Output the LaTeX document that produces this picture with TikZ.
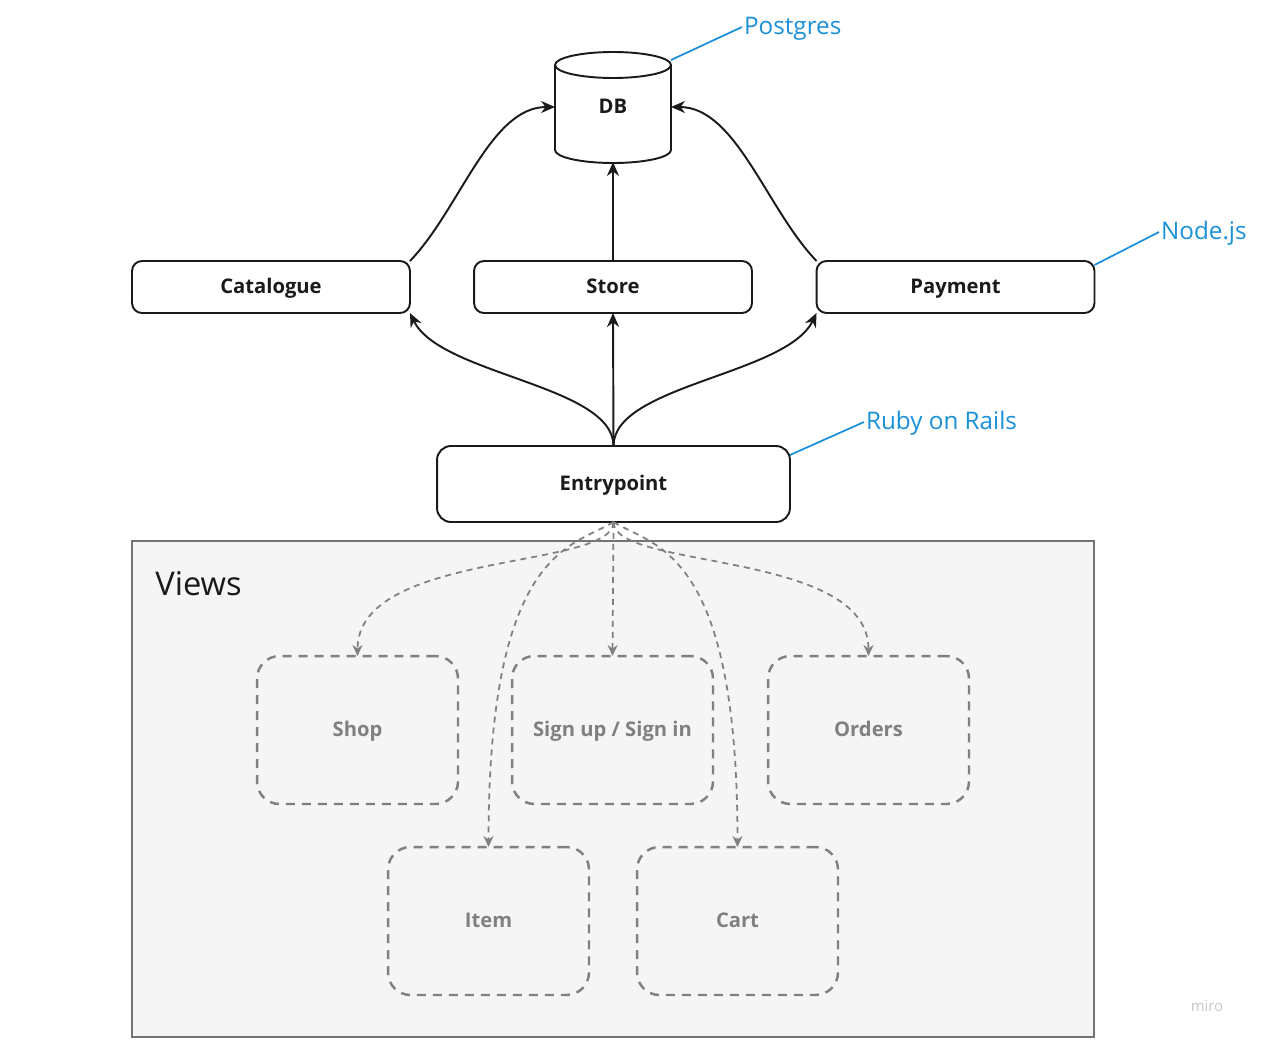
\documentclass[tikz,border=0pt]{standalone}
\usepackage{fontspec}
\setmainfont{Open Sans}
\usetikzlibrary{arrows.meta}

\definecolor{techblue}{HTML}{1A90D8}
\definecolor{viewgray}{HTML}{808080}
\definecolor{viewfill}{HTML}{F5F5F5}
\definecolor{inkblack}{HTML}{1A1A1A}

\tikzset{
  label font/.style={font=\bfseries\fontsize{11.5}{14}\selectfont, text height=0.74em, text depth=0.02em},
  service/.style={draw=inkblack, line width=1.1pt, rounded corners=0.2cm, outer sep=0pt,
    minimum width=5.56cm, minimum height=1.04cm, text=inkblack, label font},
  viewbox/.style={draw=viewgray, line width=1.4pt, dash pattern=on 0.18cm off 0.14cm,
    rounded corners=0.45cm, outer sep=0pt, minimum width=4.02cm, minimum height=2.96cm,
    text=viewgray, label font},
  call/.style={-{Stealth[length=0.28cm,width=0.24cm]}, line width=1.1pt, inkblack},
  route/.style={-{Stealth[length=0.22cm,width=0.2cm]}, line width=1pt, viewgray,
    dash pattern=on 0.12cm off 0.1cm},
  tech/.style={anchor=west, inner sep=1pt, text=techblue, font=\fontsize{13.8}{16}\selectfont,
    text height=0.88em, text depth=0.06em},
  techline/.style={techblue, line width=1pt},
}

\begin{document}
\begin{tikzpicture}[x=0.02cm, y=-0.02cm]
        \useasboundingbox (0,0) rectangle (1280,1051);

        % Views frame
        \node (views) [draw=viewgray!90!black, fill=viewfill, line width=1.4pt, outer sep=0pt,
          minimum width=19.24cm, minimum height=9.92cm] at (613,789) {};
        \node (viewslbl) [anchor=west, inner sep=0pt, text=inkblack,
          font=\fontsize{18.6}{20}\selectfont] at (155,584) {Views};

        % Database
        \draw[line width=1.1pt, inkblack, fill=white] (555,65) -- (555,150)
          arc[start angle=180, end angle=360, x radius=1.16cm, y radius=0.26cm] -- (671,65);
        \draw[line width=1.1pt, inkblack, fill=white] (613,65) ellipse (1.16cm and 0.26cm);
        \node (db) [minimum width=2.32cm, minimum height=2.2cm, inner sep=0pt, outer sep=0pt,
          text=inkblack, label font] at (613,107) {DB};
        \coordinate (dbrim) at (671,60);

        % Services
        \node (catalogue) [service] at (271,287) {Catalogue};
        \node (store) [service] at (613,287) {Store};
        \node (payment) [service] at (955.5,287) {Payment};
        \node (entry) [service, minimum width=7.06cm, minimum height=1.52cm,
          rounded corners=0.28cm] at (613.5,484) {Entrypoint};

        % Views
        \node (shop) [viewbox] at (357.5,730) {Shop};
        \node (signup) [viewbox] at (612.5,730) {Sign up / Sign in};
        \node (orders) [viewbox] at (868.5,730) {Orders};
        \node (item) [viewbox] at (488.5,921) {Item};
        \node (cart) [viewbox] at (737.5,921) {Cart};

        % Services -> DB
        \draw[call] (catalogue.north east) .. controls +(50,-52) and +(-65,0) .. (db.west);
        \draw[call] (payment.north west) .. controls +(-50,-52) and +(65,0) .. (db.east);
        \draw[call] (store.north) -- (db.south);

        % Entrypoint -> services
        \draw[call] (entry.north) .. controls +(0,-61) and +(30,62) .. (catalogue.south east);
        \draw[call] (entry.north) -- (store.south);
        \draw[call] (entry.north) .. controls +(0,-61) and +(-30,62) .. (payment.south west);

        % Entrypoint -> views
        \draw[route] (entry.south) .. controls +(0,48) and +(0,-106) .. (shop.north);
        \draw[route] (entry.south) .. controls +(-40,25) and +(0,-300) .. (item.north);
        \draw[route] (entry.south) -- (signup.north);
        \draw[route] (entry.south) .. controls +(40,25) and +(0,-300) .. (cart.north);
        \draw[route] (entry.south) .. controls +(0,48) and +(0,-106) .. (orders.north);

        % Technologies
        \node (postgres) [tech] at (742,27) {Postgres};
        \node (nodejs) [tech] at (1159,232) {Node.js};
        \node (rails) [tech] at (864,422) {Ruby on Rails};
        \draw[techline] (dbrim) -- (postgres.west);
        \draw[techline] ([yshift=-0.08cm]payment.north east) -- (nodejs.west);
        \draw[techline] ([yshift=-0.18cm]entry.north east) -- (rails.west);

        % Watermark
        \node (miro) [text=black!22, font=\fontsize{8.5}{10}\selectfont] at (1207,1006) {miro};
    \end{tikzpicture}
\end{document}
